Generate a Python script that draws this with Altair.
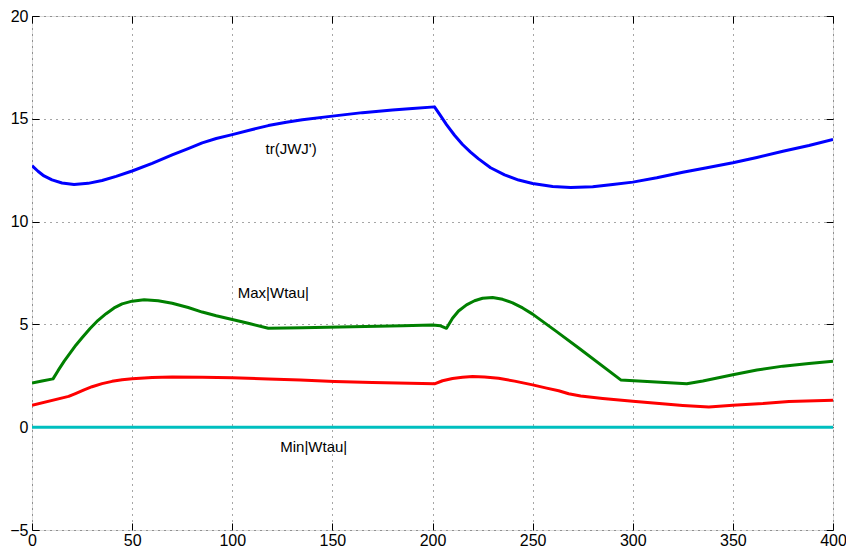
import altair as alt
import pandas as pd

# tr(JWJ') series (blue)
tr_x = [0, 3, 6, 10, 15, 21, 28, 35, 42, 50, 60, 70, 78, 85, 92, 100, 110, 118, 127, 135, 150, 165,
        180, 190, 201, 204, 207, 211, 215, 219, 223, 229, 236, 243, 250, 260, 269, 280, 290, 300,
        312, 325, 337, 350, 362, 375, 388, 400]
tr_y = [12.72, 12.45, 12.22, 12.03, 11.88, 11.81, 11.86, 12.0, 12.2, 12.46, 12.83, 13.24, 13.55,
        13.83, 14.04, 14.23, 14.48, 14.67, 14.83, 14.95, 15.13, 15.3, 15.43, 15.5, 15.58, 15.15,
        14.72, 14.2, 13.75, 13.38, 13.05, 12.62, 12.27, 12.02, 11.85, 11.71, 11.66, 11.7, 11.8,
        11.92, 12.13, 12.4, 12.62, 12.86, 13.12, 13.42, 13.7, 13.99]

# Max|Wtau| series (green)
max_x = [0, 5, 10.5, 13, 16, 19, 22, 25, 29, 33, 37, 41, 45, 50, 56, 63, 70, 78, 85, 92, 100, 109,
         118, 135, 160, 185, 200, 204, 207, 210, 213, 217, 221, 225, 230, 235, 240, 245, 250, 262,
         273, 294, 327, 335, 350, 362, 375, 388, 400]
max_y = [2.15, 2.25, 2.35, 2.75, 3.2, 3.6, 4.0, 4.35, 4.8, 5.2, 5.52, 5.8, 6.0, 6.13, 6.2, 6.15,
         6.03, 5.82, 5.6, 5.42, 5.24, 5.03, 4.81, 4.84, 4.88, 4.93, 4.97, 4.93, 4.81, 5.3, 5.65,
         5.95, 6.15, 6.27, 6.31, 6.22, 6.05, 5.8, 5.5, 4.65, 3.85, 2.3, 2.11, 2.25, 2.55, 2.78,
         2.97, 3.1, 3.21]

# red series
red_x = [0, 18.3, 22, 26, 30, 35, 40, 45, 50, 60, 70, 85, 100, 118, 134, 151, 170, 201, 205, 210,
         215, 220, 226, 233, 241, 250, 257, 263, 268, 274, 285, 300, 325, 338, 350, 365, 378, 400]
red_y = [1.07, 1.5, 1.65, 1.82, 1.97, 2.12, 2.23, 2.31, 2.36, 2.42, 2.44, 2.43, 2.41, 2.35, 2.3,
         2.22, 2.17, 2.11, 2.26, 2.37, 2.43, 2.46, 2.44, 2.38, 2.24, 2.06, 1.9, 1.77, 1.63, 1.52,
         1.4, 1.26, 1.06, 0.98, 1.07, 1.15, 1.25, 1.31]

# Min|Wtau| series (cyan)
min_x = [0, 400]
min_y = [0, 0]

series_names = ["tr", "max", "red", "min"]
series_colors = ["#0000FF", "#008000", "#FF0000", "#00BFBF"]

label_text = ["tr(JWJ')", "Max|Wtau|", "Min|Wtau|"]
label_x = [129.4, 120.5, 140.7]
label_y = [13.51, 6.55, -0.94]

x_ticks = [0, 50, 100, 150, 200, 250, 300, 350, 400]
y_ticks = [-5, 0, 5, 10, 15, 20]

rows = []
for name, xs, ys in zip(series_names, [tr_x, max_x, red_x, min_x], [tr_y, max_y, red_y, min_y]):
    for a, b in zip(xs, ys):
        rows.append({"series": name, "x": a, "y": b})
df = pd.DataFrame(rows)
labels_df = pd.DataFrame({"text": label_text, "x": label_x, "y": label_y})

FONT = "Liberation Sans"
x_scale = alt.Scale(domain=[0, 400], nice=False, zero=False)
y_scale = alt.Scale(domain=[-5, 20], nice=False, zero=False)

common_axis = dict(
    offset=-7, tickSize=7, domain=False, tickColor="black", tickWidth=1,
    labelFont=FONT, labelFontSize=16, labelColor="black", title=None,
    labelFlush=False, labelOverlap=False,
)

lines = alt.Chart(df).mark_line(strokeWidth=3, clip=True, strokeJoin="round").encode(
    x=alt.X("x:Q", scale=x_scale, axis=alt.Axis(
        orient="bottom", values=x_ticks, grid=True, gridDash=[1, 5], gridColor="black",
        gridOpacity=0.7, gridWidth=1, labelPadding=2, **common_axis)),
    y=alt.Y("y:Q", scale=y_scale, axis=alt.Axis(
        orient="left", values=y_ticks, grid=True, gridDash=[1, 5], gridColor="black",
        gridOpacity=0.7, gridWidth=1, labelPadding=4, **common_axis)),
    color=alt.Color("series:N", scale=alt.Scale(domain=series_names, range=series_colors), legend=None),
    detail="series:N",
)

texts = alt.Chart(labels_df).mark_text(font=FONT, fontSize=15, color="black").encode(
    x=alt.X("x:Q", scale=x_scale, axis=alt.Axis(
        orient="top", values=x_ticks, grid=False, labels=False, offset=-7, tickSize=7,
        domain=False, tickColor="black", title=None)),
    y=alt.Y("y:Q", scale=y_scale, axis=alt.Axis(
        orient="right", values=y_ticks, grid=False, labels=False, offset=-7, tickSize=7,
        domain=False, tickColor="black", title=None)),
    text="text:N",
)

chart = alt.layer(lines, texts).properties(
    width=801, height=514,
    autosize=alt.AutoSizeParams(type="none"),
    padding={"left": 24, "top": 8, "right": 13, "bottom": 19},
).configure_view(stroke="black", strokeWidth=1).configure(background="white")

chart.save("out.html", embed_options={"renderer": "svg", "actions": False})
